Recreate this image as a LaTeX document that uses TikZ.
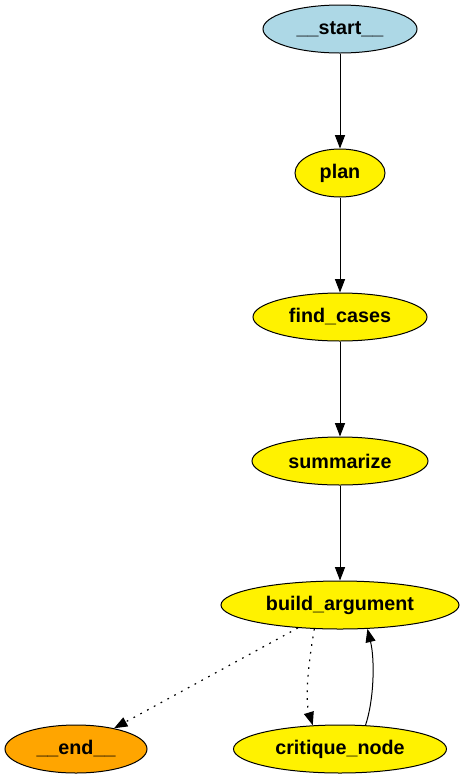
\documentclass[tikz,border=0pt]{standalone}
\usepackage{fontspec}
\setmainfont{Liberation Sans}
\usetikzlibrary{shapes.geometric,arrows.meta}
\begin{document}
\begin{tikzpicture}[x=0.75pt,y=-0.75pt,
  gnode/.style={ellipse,draw=black,line width=0.75pt,inner sep=0pt,minimum height=36pt,font=\fontsize{14.8}{16}\selectfont\bfseries},
  yel/.style={gnode,fill=yellow},
  edge/.style={line width=0.75pt,-{Triangle[length=10pt,width=7.5pt]}},
  dotedge/.style={edge,line width=0.9pt,dash pattern=on 1.3pt off 4.5pt}]
\useasboundingbox (0,0) rectangle (465,779);
\node[gnode,fill={rgb,255:red,173;green,216;blue,230},minimum width=115.5pt] (start) at (340,29) {\_\_start\_\_};
\node[yel,minimum width=67.5pt] (plan) at (340,173) {plan};
\node[yel,minimum width=130.5pt] (find) at (340,317) {find\_cases};
\node[yel,minimum width=132pt] (sum) at (340,461) {summarize};
\node[yel,minimum width=178.5pt] (build) at (340,605) {build\_argument};
\node[gnode,fill={rgb,255:red,255;green,165;blue,0},minimum width=106.5pt] (end) at (76,749) {\_\_end\_\_};
\node[yel,minimum width=159.75pt] (crit) at (340,749) {critique\_node};
\draw[edge] (start) -- (plan);
\draw[edge] (plan) -- (find);
\draw[edge] (find) -- (sum);
\draw[edge] (sum) -- (build);
\draw[dotedge] (build) -- (end);
\draw[dotedge] (build.223) .. controls (308,665) and (305,700) .. (crit.139);
\draw[edge] (crit.43) .. controls (374,700) and (375,660) .. (build.-41);
\end{tikzpicture}
\end{document}
